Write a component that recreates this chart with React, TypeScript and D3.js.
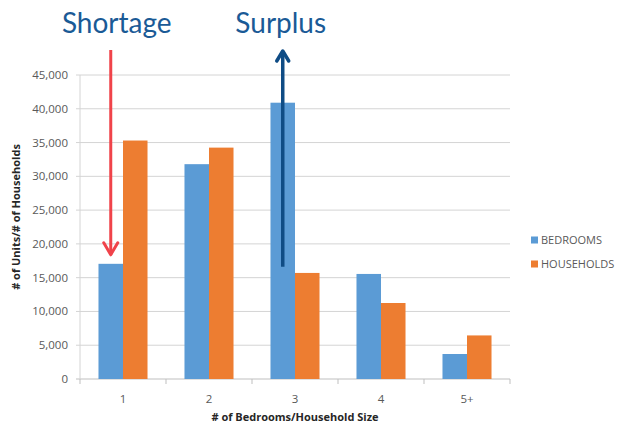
import React from 'react';
import * as d3 from 'd3';

const CATEGORIES = ['1', '2', '3', '4', '5+'];
const BEDROOMS = [17050, 31800, 40900, 15550, 3700];
const HOUSEHOLDS = [35300, 34250, 15700, 11250, 6450];
const SERIES = ['BEDROOMS', 'HOUSEHOLDS'];
const Y_TICKS = [0, 5000, 10000, 15000, 20000, 25000, 30000, 35000, 40000, 45000];

const COLORS = ['#5b9bd5', '#ed7d31'];
const W = 618;
const H = 426;
const margin = { top: 75, right: 108, bottom: 47, left: 80 };
const FONT = "'Open Sans', 'Liberation Sans', sans-serif";

const App = () => {
    const plotW = W - margin.left - margin.right;
    const x = d3.scaleBand()
        .domain(CATEGORIES)
        .range([margin.left, W - margin.right])
        .paddingInner(0.43)
        .paddingOuter(0.215);
    const inner = d3.scaleBand().domain(SERIES).range([0, x.bandwidth()]);
    const y = d3.scaleLinear().domain([0, 45000]).range([H - margin.bottom, margin.top]);
    const fmt = d3.format(',');
    const step = plotW / CATEGORIES.length;
    const values = [BEDROOMS, HOUSEHOLDS];

    // arrow positions tied to the bars they point at
    const redX = (x('1') ?? 0) + inner.bandwidth() / 2;
    const blueX = (x('3') ?? 0) + inner.bandwidth() / 2;

    return (
        <svg width={W} height={H} style={{ position: 'absolute', left: 0, top: 0 }} fontFamily={FONT}>
            <rect width={W} height={H} fill="#fff" />

            {/* grid */}
            {Y_TICKS.map(t => (
                <line key={t} x1={margin.left - 4} x2={W - margin.right} y1={y(t)} y2={y(t)}
                    stroke={t === 0 ? '#bfbfbf' : '#d4d4d4'} strokeWidth={1} />
            ))}
            <line x1={margin.left} x2={margin.left} y1={margin.top} y2={y(0)} stroke="#d4d4d4" />
            {d3.range(CATEGORIES.length + 1).map(i => (
                <line key={i} x1={margin.left + i * step} x2={margin.left + i * step}
                    y1={y(0)} y2={y(0) + 5} stroke="#bfbfbf" />
            ))}

            {/* y labels */}
            {Y_TICKS.map(t => (
                <text key={t} x={margin.left - 12} y={y(t)} dy="0.35em" textAnchor="end"
                    fontSize={11.5} fill="#595959">{fmt(t)}</text>
            ))}
            <text transform={`translate(20,217) rotate(-90)`} textAnchor="middle" fontSize={11}
                fontWeight="bold" fill="#262626">
                # of Units/# of Households
            </text>

            {/* bars */}
            {CATEGORIES.map((c, i) => (
                <g key={c} transform={`translate(${x(c)},0)`}>
                    {SERIES.map((s, j) => (
                        <rect key={s} x={inner(s)} y={y(values[j][i])} width={inner.bandwidth()}
                            height={y(0) - y(values[j][i])} fill={COLORS[j]} />
                    ))}
                </g>
            ))}

            {/* x labels */}
            {CATEGORIES.map(c => (
                <text key={c} x={(x(c) ?? 0) + x.bandwidth() / 2} y={y(0) + 24} textAnchor="middle"
                    fontSize={11.5} fill="#595959">{c}</text>
            ))}
            <text x={margin.left + plotW / 2} y={H - 5} textAnchor="middle" fontSize={11}
                fontWeight="bold" fill="#262626">
                # of Bedrooms/Household Size
            </text>

            {/* legend */}
            {SERIES.map((s, j) => (
                <g key={s} transform={`translate(531,${240 + j * 24})`}>
                    <rect x={0} y={-3.5} width={7} height={7} fill={COLORS[j]} />
                    <text x={10} y={0} dy="0.35em" fontSize={11} fill="#595959">{s}</text>
                </g>
            ))}

            {/* annotations */}
            <text x={redX + 6} y={33} textAnchor="middle" fontSize={28}
                fontFamily="Lato, 'Open Sans', sans-serif" fill="#1a5a96">Shortage</text>
            <text x={blueX - 2} y={33} textAnchor="middle" fontSize={28}
                fontFamily="Lato, 'Open Sans', sans-serif" fill="#1a5a96">Surplus</text>

            <line x1={redX} x2={redX} y1={50} y2={y(BEDROOMS[0]) - 9} stroke="#f0434a" strokeWidth={3} />
            <polyline points={`${redX - 7},${y(BEDROOMS[0]) - 21} ${redX},${y(BEDROOMS[0]) - 9} ${redX + 7},${y(BEDROOMS[0]) - 21}`}
                fill="none" stroke="#f0434a" strokeWidth={3} strokeLinecap="round" strokeLinejoin="round" />

            <line x1={blueX} x2={blueX} y1={y(16600)} y2={51} stroke="#0f4c85" strokeWidth={3.5} />
            <polyline points={`${blueX - 6},${61} ${blueX},${51} ${blueX + 6},${61}`}
                fill="none" stroke="#0f4c85" strokeWidth={3.5} strokeLinecap="round" strokeLinejoin="round" />
        </svg>
    );
};

export default App;
